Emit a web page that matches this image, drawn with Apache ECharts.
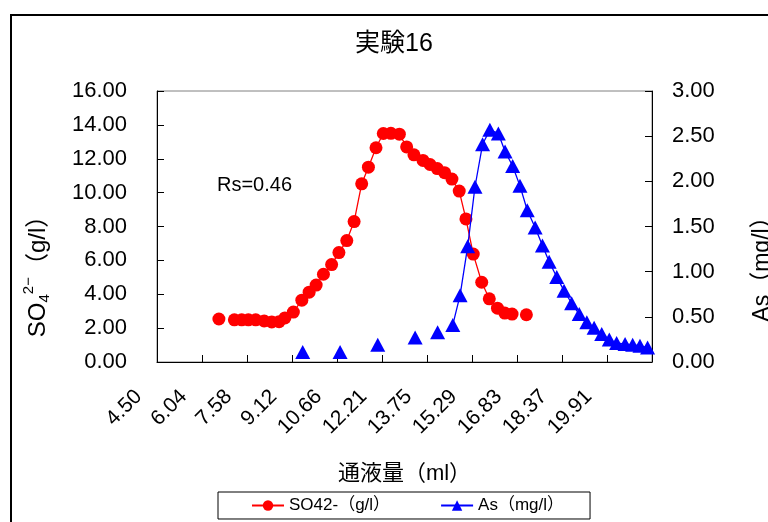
<!DOCTYPE html>
<html>
<head>
<meta charset="utf-8">
<script src="https://cdn.jsdelivr.net/npm/echarts@6/dist/echarts.min.js"></script>
<style>
  html, body { margin: 0; padding: 0; background: #fff; }
  #chart { width: 768px; height: 522px; }
</style>
</head>
<body>
<div id="chart"></div>
<script>
// Experiment 16: sulfate (g/l) and arsenic (mg/l) in effluent vs. passed volume (ml)
const chartTitle = '実験16';
const xAxisTitle = '通液量（ml）';
const so4Name = 'SO42-（g/l）';
const asName = 'As（mg/l）';
const rsNote = 'Rs=0.46';

// x-axis ticks: start value and step (ml)
const volumeStart = 4.5;
const volumeStep = 1.5411;
const volumeTickCount = 11;

// left axis (SO4) and right axis (As) ranges
const so4Max = 16, so4Step = 2;
const asMax = 3, asStep = 0.5;

// SO4 2- concentration series
const so4Volume = [6.62, 7.15, 7.40, 7.63, 7.88, 8.17, 8.43, 8.68, 8.88, 9.17,
  9.46, 9.71, 9.95, 10.20, 10.48, 10.73, 11.00, 11.25, 11.51, 11.74,
  12.00, 12.25, 12.51, 12.80, 13.05, 13.30, 13.61, 13.85, 14.10, 14.35,
  14.60, 14.85, 15.08, 15.33, 15.62, 15.88, 16.16, 16.41, 16.66, 17.15];
const so4Conc = [2.54, 2.49, 2.49, 2.49, 2.49, 2.42, 2.36, 2.38, 2.60, 2.95,
  3.65, 4.12, 4.54, 5.18, 5.75, 6.46, 7.17, 8.29, 10.52, 11.50,
  12.65, 13.49, 13.50, 13.45, 12.70, 12.23, 11.90, 11.66, 11.42, 11.18,
  10.80, 10.09, 8.45, 6.37, 4.71, 3.73, 3.18, 2.89, 2.83, 2.79];

// As concentration series
const asVolume = [9.49, 10.77, 12.06, 13.34, 14.11, 14.63, 14.88, 15.14, 15.39, 15.65,
  15.90, 16.19, 16.42, 16.68, 16.93, 17.18, 17.45, 17.70, 17.93, 18.19,
  18.44, 18.70, 18.96, 19.22, 19.47, 19.73, 19.99, 20.24, 20.53, 20.79,
  21.04, 21.30];
const asConc = [0.11, 0.11, 0.19, 0.27, 0.33, 0.41, 0.74, 1.28, 1.94, 2.41,
  2.57, 2.53, 2.33, 2.17, 1.95, 1.68, 1.49, 1.29, 1.11, 0.94,
  0.79, 0.65, 0.53, 0.44, 0.38, 0.31, 0.25, 0.21, 0.20, 0.19,
  0.18, 0.16];

// samples further apart than this are not joined by a line (missing samples)
const maxJoinGap = 0.4;

const FONT = "'Liberation Sans', 'Noto Sans CJK JP', sans-serif";

// axis coordinate = tick index, so ticks start exactly at volumeStart
const toAxis = v => (v - volumeStart) / volumeStep;

function buildPoints(xs, ys) {
  const out = [];
  for (let i = 0; i < xs.length; i++) {
    if (i > 0 && xs[i] - xs[i - 1] > maxJoinGap) {
      out.push([(toAxis(xs[i]) + toAxis(xs[i - 1])) / 2, '-']);
    }
    out.push([toAxis(xs[i]), ys[i]]);
  }
  return out;
}

const chart = echarts.init(document.getElementById('chart'), null, { renderer: 'canvas' });

const axisLineStyle = { lineStyle: { color: '#000', width: 1 } };
const tickStyle = { inside: true, length: 7, lineStyle: { color: '#000', width: 1 } };

chart.setOption({
  animation: false,
  backgroundColor: '#fff',
  textStyle: { fontFamily: FONT },
  title: {
    text: chartTitle,
    left: 355,
    top: 32,
    padding: 0,
    textStyle: { fontFamily: FONT, fontSize: 25, fontWeight: 'normal', color: '#000' }
  },
  legend: {
    left: 218,
    top: 492,
    orient: 'horizontal',
    borderColor: '#000',
    borderWidth: 1,
    padding: [5, 26, 5, 33],
    itemGap: 50,
    itemWidth: 32,
    itemHeight: 13,
    data: [so4Name, asName],
    textStyle: { fontFamily: FONT, fontSize: 17, color: '#000' }
  },
  grid: {
    left: 157, right: 116, top: 91, bottom: 160,
    outerBoundsMode: 'none',
    containLabel: false,
    show: true, borderColor: '#808080', borderWidth: 1,
    backgroundColor: 'transparent'
  },
  xAxis: {
    type: 'value',
    min: 0,
    max: volumeTickCount,
    interval: 1,
    name: xAxisTitle,
    nameLocation: 'middle',
    nameGap: 101,
    nameTextStyle: { fontFamily: FONT, fontSize: 22, color: '#000' },
    axisLine: axisLineStyle,
    axisTick: tickStyle,
    splitLine: { show: false },
    axisLabel: {
      rotate: 45,
      margin: 13,
      padding: [0, 26, 0, 0],
      fontFamily: FONT,
      fontSize: 21,
      color: '#000',
      formatter: v => v >= volumeTickCount ? '' : (volumeStart + v * volumeStep).toFixed(2)
    }
  },
  yAxis: [
    {
      type: 'value',
      min: 0, max: so4Max, interval: so4Step,
      position: 'left',
      name: '{a|SO}{sub|4}{sup|2−}{a|（g/l）}',
      nameLocation: 'middle',
      nameRotate: 90,
      nameGap: 100,
      nameTextStyle: {
        color: '#000',
        padding: [0, 88, 0, 0],
        rich: {
          a: { fontFamily: FONT, fontSize: 24, lineHeight: 38, color: '#000' },
          sub: { fontFamily: FONT, fontSize: 15, lineHeight: 15, verticalAlign: 'bottom', padding: [0, 0, 5, 0], color: '#000' },
          sup: { fontFamily: FONT, fontSize: 15, lineHeight: 15, verticalAlign: 'top', padding: [2, 0, 0, 0], color: '#000' }
        }
      },
      axisLine: { show: true, lineStyle: { color: '#000', width: 1 } },
      axisTick: tickStyle,
      splitLine: { show: false },
      axisLabel: {
        margin: 30, fontFamily: FONT, fontSize: 22, color: '#000',
        formatter: v => v.toFixed(2)
      }
    },
    {
      type: 'value',
      min: 0, max: asMax, interval: asStep,
      position: 'right',
      name: asName,
      nameLocation: 'middle',
      nameRotate: 90,
      nameGap: 99,
      nameTextStyle: { fontFamily: FONT, fontSize: 23, color: '#000', padding: [0, 74, 0, 0] },
      axisLine: { show: true, lineStyle: { color: '#000', width: 1 } },
      axisTick: tickStyle,
      splitLine: { show: false },
      axisLabel: {
        margin: 20, fontFamily: FONT, fontSize: 22, color: '#000',
        formatter: v => v.toFixed(2)
      }
    }
  ],
  graphic: [
    {
      type: 'rect',
      silent: true,
      shape: { x: 11, y: 15, width: 900, height: 700 },
      style: { fill: 'none', stroke: '#000', lineWidth: 2 }
    },
    {
      type: 'text',
      silent: true,
      x: 217,
      y: 185,
      style: {
        text: rsNote,
        fontFamily: FONT,
        fontSize: 20,
        fill: '#000',
        textVerticalAlign: 'middle',
        verticalAlign: 'middle'
      }
    }
  ],
  series: [
    {
      name: so4Name,
      type: 'line',
      yAxisIndex: 0,
      data: buildPoints(so4Volume, so4Conc),
      connectNulls: false,
      showSymbol: true,
      showAllSymbol: true,
      symbol: 'circle',
      symbolSize: 13,
      itemStyle: { color: '#ff0000' },
      lineStyle: { color: '#ff0000', width: 1.3 },
      z: 2
    },
    {
      name: asName,
      type: 'line',
      yAxisIndex: 1,
      data: buildPoints(asVolume, asConc),
      connectNulls: false,
      showSymbol: true,
      showAllSymbol: true,
      symbol: 'triangle',
      symbolSize: [15, 14],
      itemStyle: { color: '#0000ff' },
      lineStyle: { color: '#0000ff', width: 1.3 },
      z: 3
    }
  ]
});
</script>
</body>
</html>
